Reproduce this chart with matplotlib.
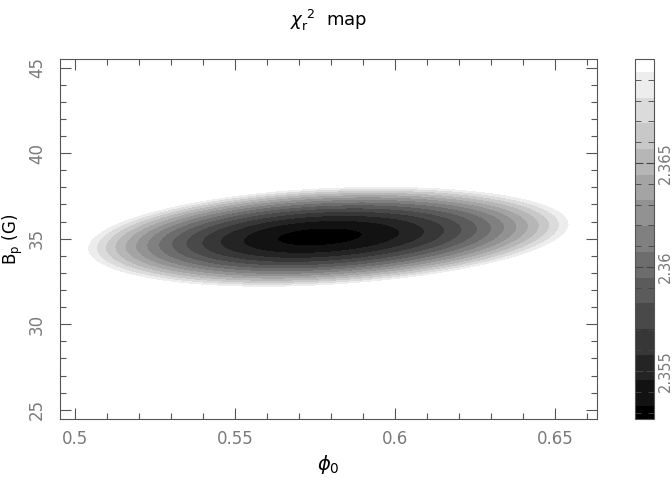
import numpy as np
import matplotlib
matplotlib.use('Agg')
from matplotlib import pyplot as plt
from matplotlib.colors import ListedColormap, BoundaryNorm
from matplotlib.cm import ScalarMappable
from matplotlib.ticker import MultipleLocator, FuncFormatter

# chi2 map (best fit + shape of the valley)
chi2_min = 2.3528
phi0_best = 0.576
bp_best = 35.1
curv_phi_left = 3.2    # d2chi2 along the valley, phi0 < best
curv_phi_right = 2.7   # d2chi2 along the valley, phi0 > best
curv_bp = 0.00203      # d2chi2 across the valley, per G^2
valley_slope = 9.5     # G per unit phi0

# colour scale
vmin, vmax = 2.3527, 2.3700
n_steps = 14
cbar_ticks = [2.355, 2.36, 2.365]

# plot ranges
phi_range = (0.4954, 0.6631)
bp_range = (24.46, 45.5)

phi = np.linspace(phi_range[0], phi_range[1], 400)
bp = np.linspace(bp_range[0], bp_range[1], 400)
X, Y = np.meshgrid(phi, bp)
u = X - phi0_best
v = (Y - bp_best) - valley_slope * u
Z = chi2_min + np.where(u < 0, curv_phi_left, curv_phi_right) * u**2 + curv_bp * v**2

step = (vmax - vmin) / n_steps
bounds = [vmin] + [vmin + (k + 0.5) * step for k in range(n_steps)] + [vmax]
grays = [str(k / n_steps) for k in range(n_steps + 1)]
cmap = ListedColormap(grays)
cmap.set_over('white')
norm = BoundaryNorm(bounds, cmap.N)

fig = plt.figure(figsize=(6.72, 4.91), dpi=100)
ax = fig.add_axes([60/672, 1-419/491, 537/672, 360/491])
cax = fig.add_axes([635/672, 1-419/491, 19/672, 360/491])

ax.contourf(X, Y, Z, levels=bounds, cmap=cmap, norm=norm, extend='max')
ax.set_xlim(*phi_range)
ax.set_ylim(*bp_range)

fmt = FuncFormatter(lambda x, p: '%g' % x)
tcol = '#7a7a7a'
ax.xaxis.set_major_locator(MultipleLocator(0.05))
ax.xaxis.set_minor_locator(MultipleLocator(0.01))
ax.yaxis.set_major_locator(MultipleLocator(5))
ax.yaxis.set_minor_locator(MultipleLocator(1))
ax.xaxis.set_major_formatter(fmt)
ax.yaxis.set_major_formatter(fmt)
ax.tick_params(which='both', direction='in', top=True, right=True, color='#555555',
               labelcolor=tcol, labelsize=12)
ax.tick_params(which='major', length=8, width=0.8)
ax.tick_params(which='minor', length=4, width=0.8)
ax.tick_params(axis='x', pad=8)
ax.tick_params(axis='y', labelrotation=90, pad=10)
for lab in ax.get_yticklabels():
    lab.set_va('center')
for s in ax.spines.values():
    s.set_color('#555555')

ax.set_xlabel(r'$\phi_\mathregular{0}$', fontsize=14)
ax.xaxis.set_label_coords(0.5, -0.095)
ax.set_ylabel(r'B$_\mathregular{p}$ (G)', fontsize=12)
ax.yaxis.set_label_coords(-0.066, 0.5)
ax.set_title(r'$\chi_\mathregular{r}^{\ \mathregular{2}}$  map', fontsize=13, pad=24)

cbar = fig.colorbar(ScalarMappable(norm=norm, cmap=cmap), cax=cax,
                    spacing='proportional', ticks=cbar_ticks)
cbar.ax.yaxis.set_major_formatter(fmt)
cbar.ax.yaxis.set_minor_locator(MultipleLocator(0.001))
cbar.ax.tick_params(which='both', direction='in', left=True, right=True,
                    color='#444444', labelcolor=tcol, labelsize=10.5)
cbar.ax.tick_params(which='major', length=6)
cbar.ax.tick_params(which='minor', length=4)
cbar.ax.tick_params(axis='y', labelrotation=90, pad=3)
for lab in cbar.ax.get_yticklabels():
    lab.set_va('center')
cbar.outline.set_edgecolor('#555555')

fig.savefig('out.png', dpi=100)
